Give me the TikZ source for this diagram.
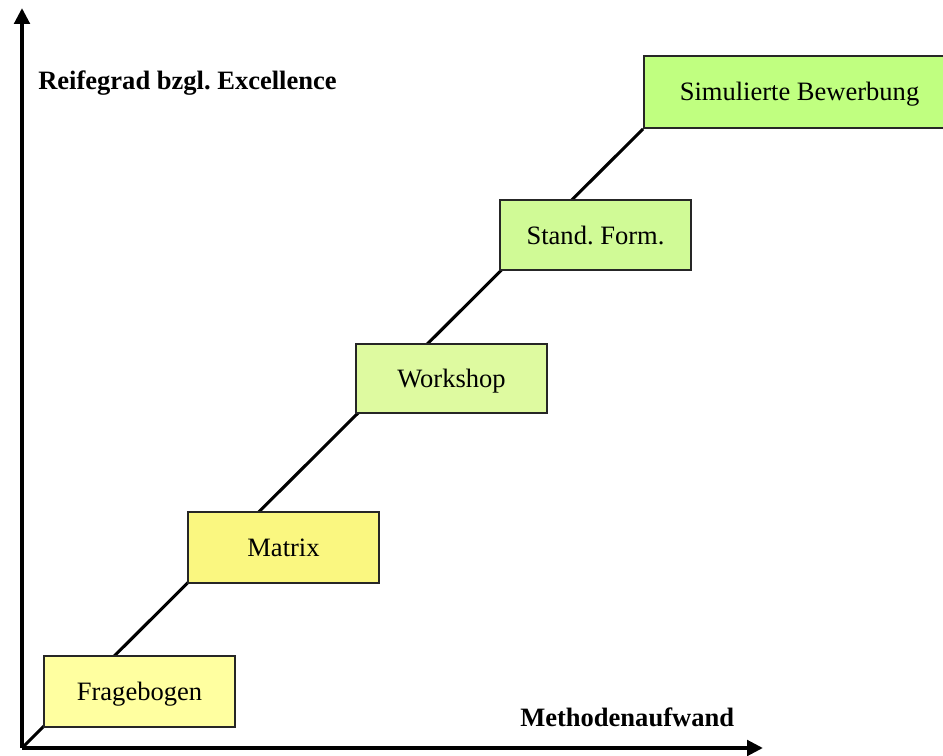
\documentclass[tikz,border=0pt]{standalone}
\usepackage{fontspec}
\setmainfont{Liberation Serif}
\usetikzlibrary{arrows.meta,backgrounds}
\frenchspacing

\definecolor{stageA}{RGB}{255,255,160}
\definecolor{stageB}{RGB}{250,247,128}
\definecolor{stageC}{RGB}{222,250,160}
\definecolor{stageD}{RGB}{208,250,150}
\definecolor{stageE}{RGB}{192,255,128}

\tikzset{
  stagebox/.style={draw=black!85, line width=1.5pt, inner sep=0pt,
    minimum width=143.25pt, minimum height=53pt,
    text height=17.5pt, text depth=4pt,
    font=\fontsize{19.9}{24}\selectfont},
  axislabel/.style={inner sep=0pt, anchor=west,
    font=\fontsize{19.9}{24}\selectfont\bfseries},
  axis/.style={line width=3pt, -{Triangle[length=12pt,width=11.5pt]}},
  stairline/.style={line width=2.3pt}
}

\begin{document}
\begin{tikzpicture}[x=0.75pt,y=-0.75pt]
  \useasboundingbox (0,0) rectangle (943,756);
  \clip (0,0) rectangle (943,756);

  % origin and axis ends
  \coordinate (o) at (22,748);
  \coordinate (ytip) at (22,8);
  \coordinate (xtip) at (763,748);

  % method stages
  \node[stagebox, fill=stageA] (frage) at (139.5,691.5) {Fragebogen};
  \node[stagebox, fill=stageB] (matrix) at (283.5,547.5) {Matrix};
  \node[stagebox, fill=stageC, minimum height=51.75pt] (work) at (451.5,378.5) {Workshop};
  \node[stagebox, fill=stageD, minimum height=52.5pt] (stand) at (595.5,235) {Stand. Form.};
  \node[stagebox, fill=stageE, minimum width=233.25pt, minimum height=54pt] (sim) at (799.5,92) {Simulierte Bewerbung};

  % rising line behind the stages
  \begin{scope}[on background layer]
    \draw[stairline] (o) -- (sim.south west);
  \end{scope}

  % axes
  \draw[axis] (o) -- (ytip);
  \draw[axis] (o) -- (xtip);

  % axis labels
  \node[axislabel] (ylab) at (38,83) {Reifegrad bzgl. Excellence};
  \node[axislabel] (xlab) at (520,717) {Methodenaufwand};
\end{tikzpicture}
\end{document}
